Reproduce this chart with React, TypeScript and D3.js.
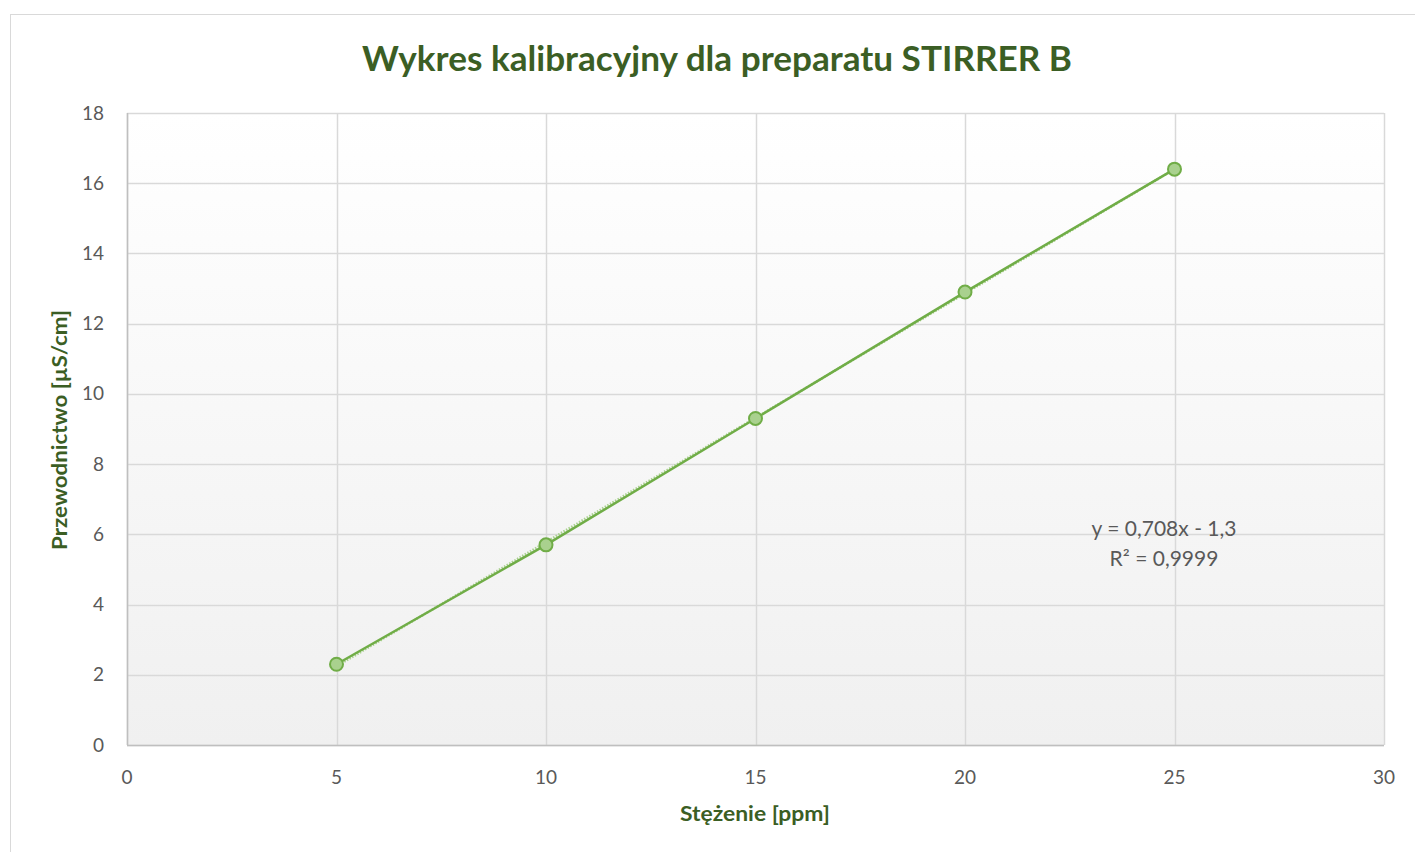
import React, { useRef, useEffect } from 'react'
import * as d3 from 'd3'

const concentrations = [5, 10, 15, 20, 25]
const conductivity = [2.3, 5.7, 9.3, 12.9, 16.4]
const xTicks = [0, 5, 10, 15, 20, 25, 30]
const yTicks = [0, 2, 4, 6, 8, 10, 12, 14, 16, 18]
const trendSlope = 0.708
const trendIntercept = -1.3
const title = 'Wykres kalibracyjny dla preparatu STIRRER B'
const xLabel = 'Stężenie [ppm]'
const yLabel = 'Przewodnictwo [µS/cm]'
const eqLines = ['y = 0,708x - 1,3', 'R² = 0,9999']

const W = 1415
const H = 852
const font = 'Lato, "Open Sans", sans-serif'

const App = () => {
  const svgRef = useRef<SVGSVGElement>(null)

  useEffect(() => {
    const svg = d3.select(svgRef.current).attr('width', W).attr('height', H)
    svg.selectAll('*').remove()

    const left = 127
    const right = 1384
    const top = 113
    const bottom = 745

    const x = d3.scaleLinear().domain([0, 30]).range([left, right])
    const y = d3.scaleLinear().domain([0, 18]).range([bottom, top])

    // chart frame
    svg
      .append('rect')
      .attr('x', 10.5)
      .attr('y', 14.5)
      .attr('width', W)
      .attr('height', H)
      .attr('fill', '#fff')
      .attr('stroke', '#d9d9d9')

    const grad = svg
      .append('defs')
      .append('linearGradient')
      .attr('id', 'bg')
      .attr('x1', 0)
      .attr('y1', 0)
      .attr('x2', 0)
      .attr('y2', 1)
    grad.append('stop').attr('offset', '0%').attr('stop-color', '#ffffff')
    grad.append('stop').attr('offset', '100%').attr('stop-color', '#f0f0f0')

    svg
      .append('rect')
      .attr('x', left)
      .attr('y', top)
      .attr('width', right - left)
      .attr('height', bottom - top)
      .attr('fill', 'url(#bg)')

    // gridlines
    svg
      .append('g')
      .selectAll('line')
      .data(yTicks)
      .enter()
      .append('line')
      .attr('x1', left)
      .attr('x2', right)
      .attr('y1', (d) => Math.round(y(d)) + 0.5)
      .attr('y2', (d) => Math.round(y(d)) + 0.5)
      .attr('stroke', '#d9d9d9')
      .attr('stroke-width', 1.5)

    svg
      .append('g')
      .selectAll('line')
      .data(xTicks)
      .enter()
      .append('line')
      .attr('y1', top)
      .attr('y2', bottom)
      .attr('x1', (d) => Math.round(x(d)) + 0.5)
      .attr('x2', (d) => Math.round(x(d)) + 0.5)
      .attr('stroke', '#d9d9d9')
      .attr('stroke-width', 1.5)

    // axes lines
    svg
      .append('line')
      .attr('x1', left + 0.5)
      .attr('x2', left + 0.5)
      .attr('y1', top)
      .attr('y2', bottom)
      .attr('stroke', '#bfbfbf')
      .attr('stroke-width', 1.5)
    svg
      .append('line')
      .attr('x1', left)
      .attr('x2', right)
      .attr('y1', bottom + 0.5)
      .attr('y2', bottom + 0.5)
      .attr('stroke', '#bfbfbf')
      .attr('stroke-width', 1.5)

    // tick labels
    svg
      .append('g')
      .selectAll('text')
      .data(yTicks)
      .enter()
      .append('text')
      .attr('x', 104)
      .attr('y', (d) => y(d) + 6.5)
      .attr('text-anchor', 'end')
      .attr('font-family', font)
      .attr('font-size', 19)
      .attr('fill', '#595959')
      .text((d) => d)

    svg
      .append('g')
      .selectAll('text')
      .data(xTicks)
      .enter()
      .append('text')
      .attr('x', (d) => x(d))
      .attr('y', 784)
      .attr('text-anchor', 'middle')
      .attr('font-family', font)
      .attr('font-size', 19)
      .attr('fill', '#595959')
      .text((d) => d)

    // trendline (dotted)
    const x0 = d3.min(concentrations) as number
    const x1 = d3.max(concentrations) as number
    svg
      .append('line')
      .attr('x1', x(x0))
      .attr('y1', y(trendSlope * x0 + trendIntercept))
      .attr('x2', x(x1))
      .attr('y2', y(trendSlope * x1 + trendIntercept))
      .attr('stroke', '#a9d18e')
      .attr('stroke-width', 2.5)
      .attr('stroke-dasharray', '1.5 1.5')

    const pts = concentrations.map((c, i) => [c, conductivity[i]] as [number, number])

    svg
      .append('path')
      .datum(pts)
      .attr('d', d3.line<[number, number]>().x((d) => x(d[0])).y((d) => y(d[1])))
      .attr('fill', 'none')
      .attr('stroke', '#70ad47')
      .attr('stroke-width', 2.5)

    svg
      .append('g')
      .selectAll('circle')
      .data(pts)
      .enter()
      .append('circle')
      .attr('cx', (d) => x(d[0]))
      .attr('cy', (d) => y(d[1]))
      .attr('r', 6.5)
      .attr('fill', '#a9d18e')
      .attr('stroke', '#70ad47')
      .attr('stroke-width', 2)

    // equation
    svg
      .append('g')
      .selectAll('text')
      .data(eqLines)
      .enter()
      .append('text')
      .attr('x', 1164)
      .attr('y', (d, i) => 536 + i * 30)
      .attr('text-anchor', 'middle')
      .attr('font-family', font)
      .attr('font-size', 21)
      .attr('fill', '#595959')
      .text((d) => d)

    // title and axis labels
    svg
      .append('text')
      .attr('x', 717)
      .attr('y', 71)
      .attr('text-anchor', 'middle')
      .attr('font-family', font)
      .attr('font-weight', 'bold')
      .attr('font-size', 34)
      .attr('textLength', 710)
      .attr('lengthAdjust', 'spacingAndGlyphs')
      .attr('fill', '#3b5e24')
      .text(title)

    svg
      .append('text')
      .attr('x', 755)
      .attr('y', 821)
      .attr('text-anchor', 'middle')
      .attr('font-family', font)
      .attr('font-weight', 'bold')
      .attr('font-size', 21)
      .attr('textLength', 150)
      .attr('lengthAdjust', 'spacingAndGlyphs')
      .attr('fill', '#3b5e24')
      .text(xLabel)

    svg
      .append('text')
      .attr('transform', `translate(67,${(top + bottom) / 2 + 1}) rotate(-90)`)
      .attr('text-anchor', 'middle')
      .attr('font-family', font)
      .attr('font-weight', 'bold')
      .attr('font-size', 21)
      .attr('textLength', 240)
      .attr('lengthAdjust', 'spacingAndGlyphs')
      .attr('fill', '#3b5e24')
      .text(yLabel)
  }, [])

  return <svg ref={svgRef} style={{ position: 'absolute', left: 0, top: 0 }} />
}

export default App
